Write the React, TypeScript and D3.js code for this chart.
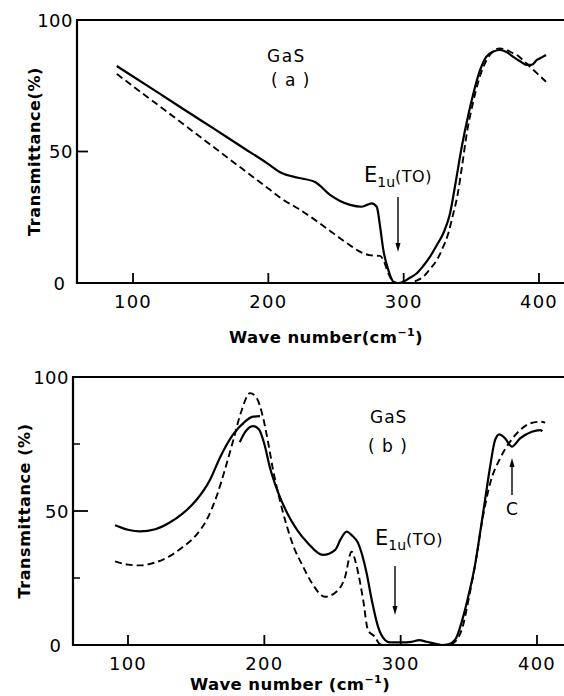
import React from 'react';
import * as d3 from 'd3';

// ---------- data ----------
const xTickValues = [100, 200, 300, 400];
const yLabelValues = [0, 50, 100];

// Panel (a)
const waveSolidA = [88, 100, 120, 140, 160, 180, 199, 210, 222, 234.5, 245.6, 253, 260.4, 269, 276.4, 280.1, 282.6, 285, 288.7, 292.4, 296, 299.8, 304, 309.7, 314, 319.5, 324, 329.3, 334.3, 338, 343, 347.8, 351, 356.5, 361, 366.3, 371.3, 376, 381, 386, 391, 394.5, 398.4, 402, 405.2];
const transSolidA = [82.5, 78.5, 71.9, 65.2, 58.6, 51.9, 45.6, 41.8, 40, 38.4, 33.5, 31.2, 29.7, 29, 30.3, 29, 21.4, 12.5, 4.9, 0.5, 0, 0.5, 1.8, 3.7, 6.2, 10, 14, 18.9, 26.5, 37, 52, 64, 71, 81, 86, 88, 88.6, 87.8, 86, 84.3, 82.9, 82.9, 84.8, 85.8, 86.7];
const waveDashA = [88, 100, 120, 140, 160, 180, 200, 210, 222, 234.5, 245.6, 253, 260.4, 268, 276, 282.6, 285, 288.7, 293, 298, 304.7, 309, 314.6, 319, 324.5, 329, 333, 336, 340, 343, 347, 351, 356, 361, 366, 371, 376, 381, 383.6, 388, 393.4, 399, 405.2];
const transDashA = [79.5, 74.8, 67.1, 59.3, 51.5, 43.7, 35.9, 32, 28.3, 24, 19.8, 17, 14.3, 11.8, 10.5, 10.3, 8.7, 3.7, 0.1, 0, 0, 0.8, 2.4, 5, 8.7, 13.5, 18.9, 25, 34, 44, 58, 68, 78, 84.5, 88, 89.2, 88.6, 87.3, 86.7, 84.8, 82.2, 79.5, 76.5];

// Panel (b)
const waveSolidB1 = [90.5, 100, 108.8, 120, 130, 140, 150, 160, 167.5, 177, 185, 191.7, 196.8];
const transSolidB1 = [44.7, 43, 42.4, 43.2, 45.5, 49, 54, 61.5, 70, 78.5, 83, 85.2, 85.4];
const waveSolidB2 = [182, 186, 191.7, 196, 200, 204, 210, 217, 224, 232, 243, 252, 256, 260.4, 264, 268.8, 275, 278.8, 283.5, 288.5, 292, 300, 308, 313.5, 319, 325, 330, 335, 340, 345, 350, 354.6, 358.3, 362, 365.6, 369.3, 372.4, 376.6, 381.5, 387.6, 396.2, 402.3, 404];
const transSolidB2 = [75.7, 79.5, 81.7, 80.5, 75, 66.4, 57, 49, 43, 38, 33.6, 35.5, 39.5, 42.3, 41, 38, 26.9, 16.8, 6.7, 1.9, 1, 1, 1.2, 1.8, 1.2, 0.5, 0, 0.3, 2, 9, 19, 30, 42, 54.5, 66.5, 76.5, 78.6, 77.1, 74, 77.1, 79.6, 80.2, 79.8];
const waveDashB = [90.5, 100, 108.8, 120, 130, 140, 150, 158, 165, 172, 177, 183, 189.5, 194, 199, 203, 206.4, 210, 216.7, 222, 227.7, 235, 244.5, 252, 259, 264, 267.8, 272.5, 276, 281, 284.9, 290, 300, 320, 335, 338, 345, 350, 355, 359.7, 365.6, 373, 380.3, 387.6, 395, 402.3, 406];
const transDashB = [31.2, 30, 29.7, 30.8, 33, 36.5, 41, 47, 55.5, 67, 76, 87, 94, 92.5, 85, 75, 65.3, 57, 44, 36, 30, 23, 18, 19.5, 25, 34.8, 29.2, 16.8, 5.6, 3.1, 0.3, 0, 0, 0, 0, 0.5, 6, 17.5, 31, 46, 60.3, 69.7, 75.9, 80.2, 82.7, 83.3, 83];

const FONT = '"DejaVu Sans", "Liberation Sans", sans-serif';

type Scale = d3.ScaleLinear<number, number>;

function Curve({ xs, ys, x, y, dashed }: { xs: number[]; ys: number[]; x: Scale; y: Scale; dashed?: boolean }) {
  const pts = xs.map((v, i) => [v, ys[i]] as [number, number]);
  const line = d3
    .line<[number, number]>()
    .x((d) => x(d[0]))
    .y((d) => y(d[1]))
    .curve(d3.curveMonotoneX);
  return (
    <path
      d={line(pts) || ''}
      fill="none"
      stroke="#000"
      strokeWidth={dashed ? 1.9 : 2.2}
      strokeDasharray={dashed ? '7 4' : undefined}
      strokeLinejoin="round"
      strokeLinecap="butt"
    />
  );
}

function Axes({ x, y, left, right, yTicks, yMinor, yMajorLen, yLabel, yLabelX, xLabel, xLabelX, xLabelY, tickLabelY }: any) {
  const y0 = y(0);
  const y100 = y(100);
  return (
    <g fontFamily={FONT} fill="#000">
      <line x1={left} x2={left} y1={y100 - 1} y2={y0 + 1} stroke="#000" strokeWidth={2.2} />
      <line x1={left} x2={right} y1={y0} y2={y0} stroke="#000" strokeWidth={2.2} />
      <line x1={left} x2={right} y1={y100} y2={y100} stroke="#000" strokeWidth={2} />
      {xTickValues.map((t) => (
        <g key={t}>
          <line x1={x(t)} x2={x(t)} y1={y0} y2={y0 - 10} stroke="#000" strokeWidth={1.8} />
          <text x={x(t)} y={tickLabelY} textAnchor="middle" fontSize={18} letterSpacing={1.2}>
            {t}
          </text>
        </g>
      ))}
      {yTicks.map((t: number) => (
        <line key={t} x1={left} x2={left + yMajorLen} y1={y(t)} y2={y(t)} stroke="#000" strokeWidth={1.8} />
      ))}
      {yMinor.map((t: number) => (
        <line key={'m' + t} x1={left} x2={left + 7} y1={y(t)} y2={y(t)} stroke="#000" strokeWidth={1.5} />
      ))}
      {yLabelValues.map((t) => (
        <text key={'l' + t} x={left - (t === 0 ? 12 : 4)} y={y(t) + 6.5} textAnchor="end" fontSize={18} letterSpacing={t === 0 ? 0 : 0.5}>
          {t}
        </text>
      ))}
      <text
        transform={`translate(${yLabelX},${(y0 + y100) / 2}) rotate(-90)`}
        textAnchor="middle"
        fontSize={16}
        fontWeight="bold"
        letterSpacing={0.6}
      >
        {yLabel}
      </text>
      <text x={xLabelX} y={xLabelY} textAnchor="middle" fontSize={16.5} fontWeight="bold" letterSpacing={0.4}>
        {xLabel}
        <tspan fontSize={11} dy={-7}>−1</tspan>
        <tspan dy={7}>)</tspan>
      </text>
    </g>
  );
}

function Eiu({ x, y }: { x: number; y: number }) {
  return (
    <text x={x} y={y} fontFamily={FONT} fontSize={21} fill="#000">
      E
      <tspan fontSize={14} dy={5}>1u</tspan>
      <tspan fontSize={16} dy={-5} letterSpacing={0.5}>(TO)</tspan>
    </text>
  );
}

function Arrow({ x, y1, y2 }: { x: number; y1: number; y2: number }) {
  const dir = y2 > y1 ? 1 : -1;
  const base = y2 - dir * 9;
  return (
    <g>
      <line x1={x} x2={x} y1={y1} y2={base} stroke="#000" strokeWidth={1.4} />
      <path d={`M${x - 2.5},${base} L${x + 2.5},${base} L${x},${y2} Z`} fill="#000" />
    </g>
  );
}

export default function App() {
  const xA = d3.scaleLinear().domain([100, 400]).range([133, 539]);
  const yA = d3.scaleLinear().domain([0, 100]).range([283, 20]);
  const xB = d3.scaleLinear().domain([100, 400]).range([128, 537]);
  const yB = d3.scaleLinear().domain([0, 100]).range([645, 377]);

  return (
    <svg width={564} height={696} viewBox="0 0 564 696" style={{ position: 'absolute', left: 0, top: 0, background: '#fff' }}>
      <rect x={0} y={0} width={564} height={696} fill="#fff" />

      {/* Panel (a) */}
      <Axes
        x={xA}
        y={yA}
        left={77}
        right={564}
        yTicks={[50]}
        yMinor={[]}
        yMajorLen={11}
        yLabel="Transmittance(%)"
        yLabelX={40}
        xLabel="Wave number(cm"
        xLabelX={326}
        xLabelY={343}
        tickLabelY={308}
      />
      <Curve xs={waveSolidA} ys={transSolidA} x={xA} y={yA} />
      <Curve xs={waveDashA} ys={transDashA} x={xA} y={yA} dashed />
      <text x={267} y={62} fontFamily={FONT} fontSize={17} letterSpacing={1.5}>GaS</text>
      <text x={271} y={86} fontFamily={FONT} fontSize={17} letterSpacing={1} xmlSpace="preserve">( a )</text>
      <Eiu x={364} y={182} />
      <Arrow x={398} y1={197} y2={252} />

      {/* Panel (b) */}
      <Axes
        x={xB}
        y={yB}
        left={73}
        right={564}
        yTicks={[50]}
        yMinor={[25, 75]}
        yMajorLen={15}
        yLabel="Transmittance (%)"
        yLabelX={30}
        xLabel="Wave number (cm"
        xLabelX={290}
        xLabelY={690}
        tickLabelY={670}
      />
      <Curve xs={waveSolidB1} ys={transSolidB1} x={xB} y={yB} />
      <Curve xs={waveSolidB2} ys={transSolidB2} x={xB} y={yB} />
      <Curve xs={waveDashB} ys={transDashB} x={xB} y={yB} dashed />
      <text x={370} y={423} fontFamily={FONT} fontSize={17} letterSpacing={1}>GaS</text>
      <text x={368} y={452} fontFamily={FONT} fontSize={17} letterSpacing={1} xmlSpace="preserve">( b )</text>
      <Eiu x={375} y={545} />
      <Arrow x={395} y1={566} y2={615} />
      <Arrow x={512} y1={495} y2={458} />
      <text x={512} y={515} textAnchor="middle" fontFamily={FONT} fontSize={17}>C</text>
    </svg>
  );
}
